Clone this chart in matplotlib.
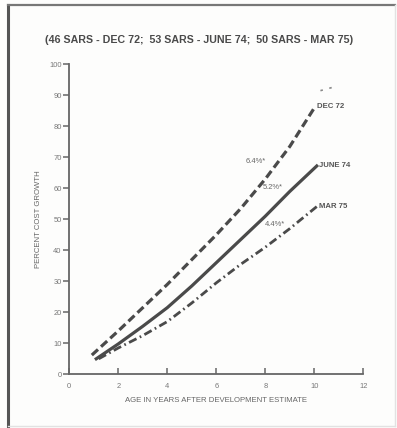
import matplotlib
matplotlib.use("Agg")
import matplotlib.pyplot as plt
from matplotlib.lines import Line2D

# ---- data ----
dec72_x = [0.92, 2, 3, 4, 5, 6, 7, 8, 9, 10.03]
dec72_y = [6.2, 14.0, 21.5, 29.0, 37.0, 45.0, 53.5, 63.0, 73.5, 86.3]
dec72_ext_x = [10.25, 10.95]
dec72_ext_y = [91.5, 93.0]

jun74_x = [1.1, 2, 3, 4, 5, 6, 7, 8, 9, 10.1]
jun74_y = [5.0, 9.8, 15.5, 21.5, 28.5, 36.0, 43.5, 51.0, 59.0, 67.2]

mar75_x = [1.2, 2, 3, 4, 5, 6, 7, 8, 9, 10.1]
mar75_y = [5.0, 8.5, 12.5, 17.0, 23.0, 29.5, 35.5, 41.0, 47.0, 54.1]

series_labels = ["DEC 72", "JUNE 74", "MAR 75"]
rate_labels = ["6.4%*", "5.2%*", "4.4%*"]
rate_pos = [(7.6, 68.5), (8.3, 60.2), (8.4, 48.3)]

xticks = [0, 2, 4, 6, 8, 10, 12]
yticks = [0, 10, 20, 30, 40, 50, 60, 70, 80, 90, 100]

title = "(46 SARS - DEC 72;  53 SARS - JUNE 74;  50 SARS - MAR 75)"
xlabel = "AGE IN YEARS AFTER DEVELOPMENT ESTIMATE"
ylabel = "PERCENT COST GROWTH"

W, H = 397, 428
fig = plt.figure(figsize=(W / 100, H / 100), dpi=100)
fig.patch.set_facecolor("#fdfdfc")

plt.rcParams["font.family"] = ["Liberation Sans", "DejaVu Sans"]

# frame around the figure
fig.add_artist(Line2D([8 / W, 8 / W], [1 - 5 / H, 1 - 428 / H], color="#555555", lw=2.2,
                      transform=fig.transFigure))
fig.add_artist(Line2D([8 / W, 395 / W], [1 - 5 / H, 1 - 5 / H], color="#777777", lw=1.6,
                      transform=fig.transFigure))
fig.add_artist(Line2D([395 / W, 395 / W], [1 - 5 / H, 1 - 426 / H], color="#e2e2e2", lw=1.0,
                      transform=fig.transFigure))
fig.add_artist(Line2D([8 / W, 395 / W], [1 - 426 / H, 1 - 426 / H], color="#e2e2e2", lw=1.0,
                      transform=fig.transFigure))

left = 69.3 / W
right = 363.3 / W
bottom = (H - 374.3) / H
top = (H - 64.3) / H
ax = fig.add_axes([left, bottom, right - left, top - bottom])
ax.set_facecolor("none")
ax.set_xlim(0, 12)
ax.set_ylim(0, 100)

lc = "#4a4a4a"
ax.plot(dec72_x, dec72_y, color=lc, lw=2.3, linestyle=(0, (2.6, 1.3)), dash_capstyle="butt")
ax.plot(dec72_ext_x, dec72_ext_y, color="#888888", lw=1.2, linestyle=(0, (1.5, 4)))
ax.plot(jun74_x, jun74_y, color=lc, lw=2.3)
ax.plot(mar75_x, mar75_y, color=lc, lw=2.0, linestyle=(0, (3.0, 1.3, 0.6, 1.3)),
        dash_capstyle="butt")

for lbl, yy, xx in zip(series_labels, [dec72_y[-1], jun74_y[-1], mar75_y[-1]],
                       [dec72_x[-1], jun74_x[-1], mar75_x[-1]]):
    ax.text(xx + 0.1, yy, lbl, fontsize=5.6, color="#555555", fontweight="bold",
            ha="left", va="center")

for lbl, (px, py) in zip(rate_labels, rate_pos):
    ax.text(px, py, lbl, fontsize=5.4, color="#666666", ha="center", va="center")

for s in ["top", "right"]:
    ax.spines[s].set_visible(False)
for s in ["left", "bottom"]:
    ax.spines[s].set_color("#666666")
    ax.spines[s].set_linewidth(1.3)

ax.set_xticks(xticks)
ax.set_yticks(yticks)
ax.set_xticklabels([str(t) for t in xticks])
ax.set_yticklabels([str(t) for t in yticks])
ax.tick_params(axis="x", direction="in", length=4, width=1.1, color="#666666",
               labelsize=5.4, labelcolor="#777777", pad=6)
ax.tick_params(axis="y", direction="out", length=4, width=1.1, color="#666666",
               labelsize=5.4, labelcolor="#777777", pad=1.5)
ax.set_xlabel(xlabel, fontsize=5.6, color="#666666", labelpad=5)
ax.set_ylabel(ylabel, fontsize=5.6, color="#666666", labelpad=5)

fig.text(199 / W, 1 - 40 / H, title, ha="center", va="center", fontsize=7.7,
         fontweight="bold", color="#4a4a4a", family=["Liberation Sans", "DejaVu Sans"])

fig.savefig("out.png", dpi=100, facecolor=fig.get_facecolor())
